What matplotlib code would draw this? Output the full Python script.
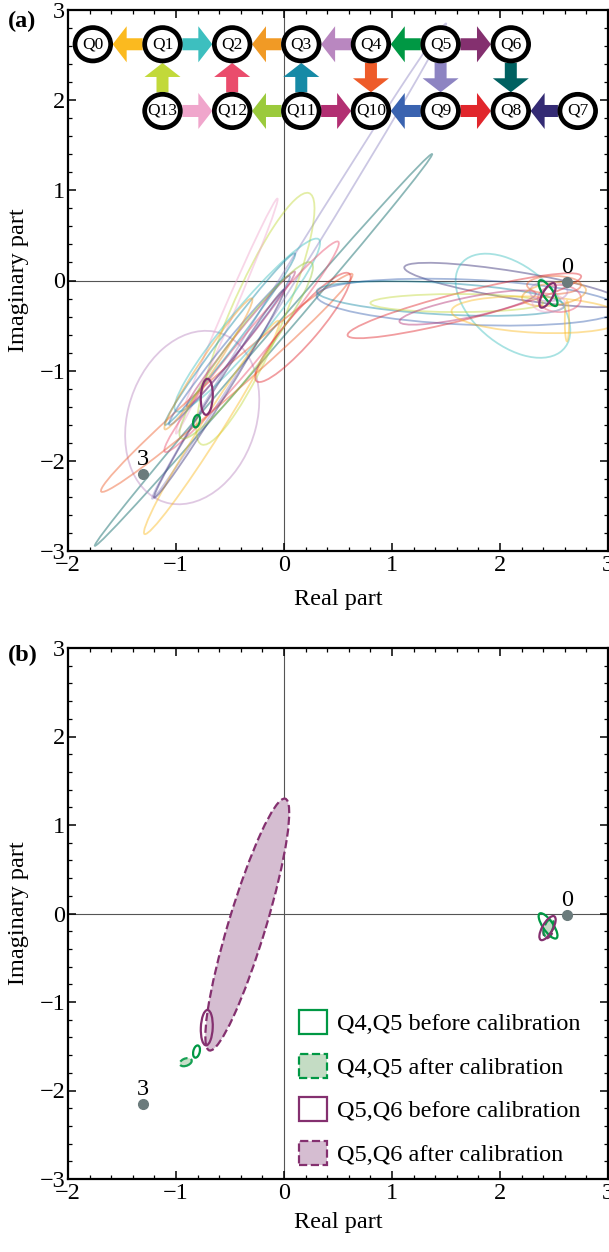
import numpy as np
import matplotlib
matplotlib.use('Agg')
import matplotlib.pyplot as plt
from matplotlib.patches import Ellipse, Polygon, Patch
from matplotlib.ticker import MultipleLocator

plt.rcParams['font.family'] = ['Liberation Serif', 'DejaVu Serif']

# --- chip layout (data coords of panel a) ---
qubit_names = ['Q0', 'Q1', 'Q2', 'Q3', 'Q4', 'Q5', 'Q6',
               'Q7', 'Q8', 'Q9', 'Q10', 'Q11', 'Q12', 'Q13']
qubit_x = [-1.77, -1.125, -0.48, 0.16, 0.805, 1.45, 2.10,
           2.72, 2.10, 1.45, 0.805, 0.16, -0.48, -1.125]
qubit_y = [2.62] * 7 + [1.88] * 7

# couplers: (from, to, colour)
arrow_from = ['Q1', 'Q1', 'Q3', 'Q4', 'Q5', 'Q5', 'Q13', 'Q12', 'Q11', 'Q4', 'Q5', 'Q6',
              'Q13', 'Q11', 'Q11', 'Q9', 'Q9', 'Q7']
arrow_to = ['Q0', 'Q2', 'Q2', 'Q3', 'Q4', 'Q6', 'Q1', 'Q2', 'Q3', 'Q10', 'Q9', 'Q8',
            'Q12', 'Q12', 'Q10', 'Q10', 'Q8', 'Q8']
arrow_col = ['#FBBA1F', '#3DBFBF', '#F19A25', '#B987C0', '#009844', '#84306F',
             '#C2D93A', '#EA4C6C', '#168AA6', '#EE5B29', '#8D84C2', '#006161',
             '#F0A6CC', '#9BCA3C', '#B22F72', '#3A63B0', '#E1262C', '#342B74']

# --- fitted error ellipses, panel a (centre, major, minor, angle, colour) ---
ell_x = [-0.19, 0.14, -0.85, -0.265, -0.53, -0.53, -0.67, -0.34, -0.30, -0.505,
         0.175, -0.60, -0.40, -0.50, -0.35, -0.70,
         2.13, 2.12, 1.70, 1.45, 1.67, 1.60, 1.70, 2.35, 2.62, 2.50, 2.55, 2.45, 2.50, 2.45]
ell_y = [-0.77, 0.215, -1.52, -0.425, -0.395, -1.135, -1.63, -0.495, -0.735, -0.775,
         -0.52, -1.255, -0.65, -0.65, -0.775, -0.925,
         -0.05, -0.28, -0.24, -0.20, -0.28, -0.25, -0.30, -0.38, -0.45, -0.05, -0.20, -0.12, -0.15, -0.25]
ell_w = [5.35, 5.93, 1.95, 2.96, 2.77, 3.35, 2.67, 2.32, 2.83, 1.99,
         1.47, 2.60, 1.80, 2.25, 2.29, 1.66,
         2.07, 1.35, 2.80, 2.30, 2.26, 1.60, 1.30, 1.60, 0.45, 0.50, 0.40, 0.35, 0.60, 0.30]
ell_h = [0.13, 0.14, 1.20, 0.50, 0.10, 0.25, 0.20, 0.35, 0.25, 0.15,
         0.30, 0.12, 0.12, 0.15, 0.35, 0.15,
         0.30, 0.80, 0.50, 0.35, 0.30, 0.20, 0.22, 0.40, 0.04, 0.20, 0.30, 0.22, 0.25, 0.20]
ell_ang = [54.3, 62.7, 78, 70.5, 70.2, 46.1, 62.3, 55.4, 55.5, 56,
           54.7, 62.5, 56.3, 57.7, 58.4, 61,
           -11, -50, -3, -4, 17, 0, 14, -3, 90, 0, 0, 0, 10, 0]
ell_col = ['#006161', '#8D84C2', '#B987C0', '#C2D93A', '#F0A6CC', '#EE5B29', '#FBBA1F',
           '#3DBFBF', '#EA4C6C', '#3A63B0', '#E1262C', '#342B74', '#B22F72', '#168AA6',
           '#9BCA3C', '#F19A25',
           '#342B74', '#3DBFBF', '#3A63B0', '#168AA6', '#E1262C', '#C2D93A', '#B22F72',
           '#FBBA1F', '#FBBA1F', '#EE5B29', '#EA4C6C', '#B987C0', '#F19A25', '#F0A6CC']

# highlighted pairs: Q4,Q5 (green) and Q5,Q6 (purple), before calibration
q45_x = [2.445, -0.81]
q45_y = [-0.14, -1.56]
q45_w = [0.32, 0.14]
q45_h = [0.10, 0.06]
q45_ang = [-62, 80]
q56_x = [2.44, -0.715]
q56_y = [-0.165, -1.29]
q56_w = [0.295, 0.40]
q56_h = [0.10, 0.11]
q56_ang = [66, 88]

# after calibration (panel b)
q45c_x = [2.45, -0.91]
q45c_y = [-0.16, -1.68]
q45c_w = [0.20, 0.12]
q45c_h = [0.08, 0.08]
q45c_ang = [75, 30]
q56c_x = [2.45, -0.34]
q56c_y = [-0.17, -0.125]
q56c_w = [0.22, 2.93]
q56c_h = [0.09, 0.35]
q56c_ang = [80, 76.2]

# reference states
state_x = [2.62, -1.31]
state_y = [-0.02, -2.15]
state_lab = ['0', '3']

GREEN = '#009844'
PURPLE = '#84306F'
GREEN_FILL = '#C4DCC4'
PURPLE_FILL = '#D5BDD1'

SX, SY = 108.0, 90.0   # pixels per data unit in panel a
CW, CH = 0.33, 0.37    # qubit circle size in data units
RX, RY = CW * SX / 2, CH * SY / 2


def block_arrow(ax, a, b, color):
    pa = np.array([a[0] * SX, a[1] * SY])
    pb = np.array([b[0] * SX, b[1] * SY])
    u = (pb - pa) / np.linalg.norm(pb - pa)
    n = np.array([-u[1], u[0]])
    r = 1.0 / np.sqrt((u[0] / RX) ** 2 + (u[1] / RY) ** 2)
    start = pa + u * (r + 2)
    tip = pb - u * (r + 2)
    neck = tip - u * 14
    shaft, head = 6.0, 18.0
    pts = [start + n * shaft, neck + n * shaft, neck + n * head, tip,
           neck - n * head, neck - n * shaft, start - n * shaft]
    pts = [(p[0] / SX, p[1] / SY) for p in pts]
    ax.add_patch(Polygon(pts, closed=True, fc=color, ec='none', zorder=5))


def style_axes(ax):
    ax.set_xlim(-2, 3)
    ax.set_ylim(-3, 3)
    ax.set_xticks(range(-2, 4))
    ax.set_yticks(range(-3, 4))
    ax.xaxis.set_minor_locator(MultipleLocator(0.2))
    ax.yaxis.set_minor_locator(MultipleLocator(0.2))
    ax.tick_params(which='both', direction='in', top=True, right=True)
    ax.tick_params(which='major', length=6, width=1.1, labelsize=17.5)
    ax.tick_params(axis='x', which='major', pad=3)
    ax.tick_params(axis='y', which='major', pad=2)
    ax.tick_params(which='minor', length=3, width=0.9)
    for s in ax.spines.values():
        s.set_linewidth(1.6)
    ax.axhline(0, color='#555555', lw=0.8, zorder=1)
    ax.axvline(0, color='#555555', lw=0.8, zorder=1)
    ax.set_xlabel('Real part', fontsize=17.5)
    ax.set_ylabel('Imaginary part', fontsize=17.5)
    ax.xaxis.label.set_va('center')
    ax.yaxis.label.set_va('center')
    ax.yaxis.set_label_coords(-0.092, 0.5)
    for i in range(len(state_x)):
        ax.plot(state_x[i], state_y[i], 'o', color='#6B7B7C', ms=7, zorder=7)
        ax.annotate(state_lab[i], (state_x[i], state_y[i]), xytext=(0, 3),
                    textcoords='offset points', ha='center', va='bottom',
                    fontsize=17.5, zorder=7)


fig = plt.figure(figsize=(6.09, 12.52), dpi=100)
ax1 = fig.add_axes([68 / 609, 1 - 551 / 1252, 540 / 609, 541 / 1252])
ax2 = fig.add_axes([68 / 609, 1 - 1179 / 1252, 540 / 609, 531 / 1252])

# ---- panel (a) ----
style_axes(ax1)
ax1.xaxis.set_label_coords(0.5, -0.09)
for i in range(len(ell_x)):
    ax1.add_patch(Ellipse((ell_x[i], ell_y[i]), ell_w[i], ell_h[i], angle=ell_ang[i],
                          fc='none', ec=ell_col[i], lw=1.3, alpha=0.45, zorder=2))
for i in range(len(q45_x)):
    ax1.add_patch(Ellipse((q45_x[i], q45_y[i]), q45_w[i], q45_h[i], angle=q45_ang[i],
                          fc='none', ec=GREEN, lw=1.6, zorder=3))
    ax1.add_patch(Ellipse((q56_x[i], q56_y[i]), q56_w[i], q56_h[i], angle=q56_ang[i],
                          fc='none', ec=PURPLE, lw=1.6, zorder=3))

pos = {q: (qubit_x[i], qubit_y[i]) for i, q in enumerate(qubit_names)}
for i in range(len(arrow_from)):
    block_arrow(ax1, pos[arrow_from[i]], pos[arrow_to[i]], arrow_col[i])
for i, q in enumerate(qubit_names):
    ax1.add_patch(Ellipse((qubit_x[i], qubit_y[i]), CW, CH, fc='white', ec='black',
                          lw=3.4, zorder=6))
    ax1.text(qubit_x[i], qubit_y[i], q, ha='center', va='center', fontsize=12.5, zorder=7)

# ---- panel (b) ----
style_axes(ax2)
ax2.xaxis.set_label_coords(0.5, -0.081)
for i in range(len(q56c_x)):
    ax2.add_patch(Ellipse((q56c_x[i], q56c_y[i]), q56c_w[i], q56c_h[i], angle=q56c_ang[i],
                          fc=PURPLE_FILL, ec=PURPLE, lw=1.6, ls='--', zorder=2))
    ax2.add_patch(Ellipse((q45c_x[i], q45c_y[i]), q45c_w[i], q45c_h[i], angle=q45c_ang[i],
                          fc=GREEN_FILL, ec=GREEN, lw=1.6, ls='--', zorder=2, alpha=0.9))
for i in range(len(q45_x)):
    ax2.add_patch(Ellipse((q45_x[i], q45_y[i]), q45_w[i], q45_h[i], angle=q45_ang[i],
                          fc='none', ec=GREEN, lw=1.6, zorder=3))
    ax2.add_patch(Ellipse((q56_x[i], q56_y[i]), q56_w[i], q56_h[i], angle=q56_ang[i],
                          fc='none', ec=PURPLE, lw=1.6, zorder=3))

handles = [Patch(fc='white', ec=GREEN, lw=1.6),
           Patch(fc=GREEN_FILL, ec=GREEN, lw=1.6, ls='--'),
           Patch(fc='white', ec=PURPLE, lw=1.6),
           Patch(fc=PURPLE_FILL, ec=PURPLE, lw=1.6, ls='--')]
labels = ['Q4,Q5 before calibration', 'Q4,Q5 after calibration',
          'Q5,Q6 before calibration', 'Q5,Q6 after calibration']
ax2.legend(handles, labels, loc='upper left', bbox_to_anchor=(0.428, 0.318),
           frameon=False, fontsize=17.5, borderpad=0, borderaxespad=0,
           handlelength=1.15, handleheight=1.15, handletextpad=0.4, labelspacing=0.75)

fig.text(8 / 609, 1 - 21 / 1252, '(a)', fontsize=17.5, fontweight='bold', va='center')
fig.text(8 / 609, 1 - 655 / 1252, '(b)', fontsize=17.5, fontweight='bold', va='center')

fig.savefig('out.png', dpi=100)
